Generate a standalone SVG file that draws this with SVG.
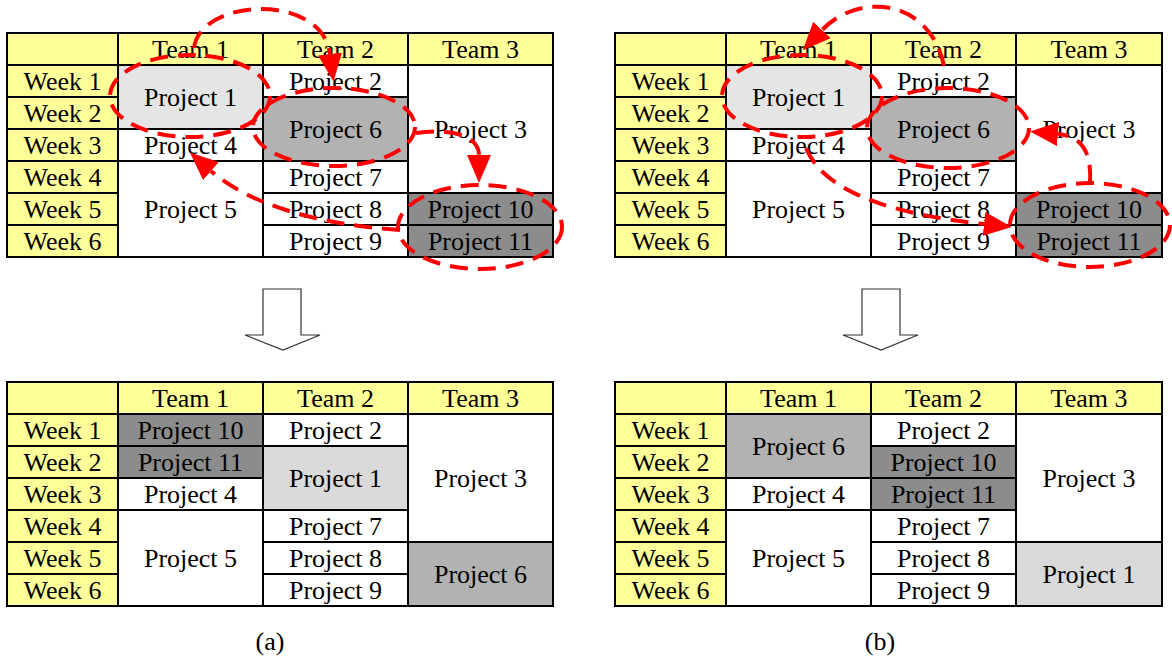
<svg xmlns="http://www.w3.org/2000/svg" width="1172" height="661" viewBox="0 0 1172 661">
  <style>
    rect { stroke: #000; stroke-width: 2; }
    .hd { fill: #ffff99; }
    .wh { fill: #ffffff; }
    .lt { fill: #e5e5e5; }
    .lt2 { fill: #d9d9d9; }
    .md { fill: #b2b2b2; }
    .dk { fill: #8c8c8c; }
    text { font-family: "Liberation Serif", "Times New Roman", "DejaVu Serif", serif; font-size: 26px; fill: #000; text-anchor: middle; }
    .ring { fill: none; stroke: #ff0000; stroke-width: 4; stroke-dasharray: 18 10; }
    .move { fill: none; stroke: #ff0000; stroke-width: 4; stroke-dasharray: 18 10; marker-end: url(#redHead); }
    .step { fill: #ffffff; stroke: #333; stroke-width: 1.2; }
  </style>
  <defs>
    <marker id="redHead" viewBox="0 0 28 24" refX="0" refY="12" markerWidth="28" markerHeight="24" markerUnits="userSpaceOnUse" orient="auto">
      <path d="M0,0 L28,12 L0,24 z" fill="#ff0000"/>
    </marker>
  </defs>

  <!-- Schedule (a), before -->
  <g id="tableA1">
    <g id="a1-corner"><rect class="hd" x="7" y="33" width="111" height="32"/></g>
    <g id="a1-team1"><rect class="hd" x="118" y="33" width="145" height="32"/><text x="190.5" y="58">Team 1</text></g>
    <g id="a1-team2"><rect class="hd" x="263" y="33" width="145" height="32"/><text x="335.5" y="58">Team 2</text></g>
    <g id="a1-team3"><rect class="hd" x="408" y="33" width="145" height="32"/><text x="480.5" y="58">Team 3</text></g>
    <g id="a1-week1"><rect class="hd" x="7" y="65" width="111" height="32"/><text x="62.5" y="90">Week 1</text></g>
    <g id="a1-week2"><rect class="hd" x="7" y="97" width="111" height="32"/><text x="62.5" y="122">Week 2</text></g>
    <g id="a1-week3"><rect class="hd" x="7" y="129" width="111" height="32"/><text x="62.5" y="154">Week 3</text></g>
    <g id="a1-week4"><rect class="hd" x="7" y="161" width="111" height="32"/><text x="62.5" y="186">Week 4</text></g>
    <g id="a1-week5"><rect class="hd" x="7" y="193" width="111" height="32"/><text x="62.5" y="218">Week 5</text></g>
    <g id="a1-week6"><rect class="hd" x="7" y="225" width="111" height="32"/><text x="62.5" y="250">Week 6</text></g>
    <g id="a1-p1"><rect class="lt" x="118" y="65" width="145" height="64"/><text x="190.5" y="106">Project 1</text></g>
    <g id="a1-p4"><rect class="wh" x="118" y="129" width="145" height="32"/><text x="190.5" y="154">Project 4</text></g>
    <g id="a1-p5"><rect class="wh" x="118" y="161" width="145" height="96"/><text x="190.5" y="218">Project 5</text></g>
    <g id="a1-p2"><rect class="wh" x="263" y="65" width="145" height="32"/><text x="335.5" y="90">Project 2</text></g>
    <g id="a1-p6"><rect class="md" x="263" y="97" width="145" height="64"/><text x="335.5" y="138">Project 6</text></g>
    <g id="a1-p7"><rect class="wh" x="263" y="161" width="145" height="32"/><text x="335.5" y="186">Project 7</text></g>
    <g id="a1-p8"><rect class="wh" x="263" y="193" width="145" height="32"/><text x="335.5" y="218">Project 8</text></g>
    <g id="a1-p9"><rect class="wh" x="263" y="225" width="145" height="32"/><text x="335.5" y="250">Project 9</text></g>
    <g id="a1-p3"><rect class="wh" x="408" y="65" width="145" height="128"/><text x="480.5" y="138">Project 3</text></g>
    <g id="a1-p10"><rect class="dk" x="408" y="193" width="145" height="32"/><text x="480.5" y="218">Project 10</text></g>
    <g id="a1-p11"><rect class="dk" x="408" y="225" width="145" height="32"/><text x="480.5" y="250">Project 11</text></g>
  </g>

  <!-- Schedule (b), before -->
  <g id="tableB1">
    <g id="b1-corner"><rect class="hd" x="615" y="33" width="111" height="32"/></g>
    <g id="b1-team1"><rect class="hd" x="726" y="33" width="145" height="32"/><text x="798.5" y="58">Team 1</text></g>
    <g id="b1-team2"><rect class="hd" x="871" y="33" width="145" height="32"/><text x="943.5" y="58">Team 2</text></g>
    <g id="b1-team3"><rect class="hd" x="1016" y="33" width="146" height="32"/><text x="1089" y="58">Team 3</text></g>
    <g id="b1-week1"><rect class="hd" x="615" y="65" width="111" height="32"/><text x="670.5" y="90">Week 1</text></g>
    <g id="b1-week2"><rect class="hd" x="615" y="97" width="111" height="32"/><text x="670.5" y="122">Week 2</text></g>
    <g id="b1-week3"><rect class="hd" x="615" y="129" width="111" height="32"/><text x="670.5" y="154">Week 3</text></g>
    <g id="b1-week4"><rect class="hd" x="615" y="161" width="111" height="32"/><text x="670.5" y="186">Week 4</text></g>
    <g id="b1-week5"><rect class="hd" x="615" y="193" width="111" height="32"/><text x="670.5" y="218">Week 5</text></g>
    <g id="b1-week6"><rect class="hd" x="615" y="225" width="111" height="32"/><text x="670.5" y="250">Week 6</text></g>
    <g id="b1-p1"><rect class="lt" x="726" y="65" width="145" height="64"/><text x="798.5" y="106">Project 1</text></g>
    <g id="b1-p4"><rect class="wh" x="726" y="129" width="145" height="32"/><text x="798.5" y="154">Project 4</text></g>
    <g id="b1-p5"><rect class="wh" x="726" y="161" width="145" height="96"/><text x="798.5" y="218">Project 5</text></g>
    <g id="b1-p2"><rect class="wh" x="871" y="65" width="145" height="32"/><text x="943.5" y="90">Project 2</text></g>
    <g id="b1-p6"><rect class="md" x="871" y="97" width="145" height="64"/><text x="943.5" y="138">Project 6</text></g>
    <g id="b1-p7"><rect class="wh" x="871" y="161" width="145" height="32"/><text x="943.5" y="186">Project 7</text></g>
    <g id="b1-p8"><rect class="wh" x="871" y="193" width="145" height="32"/><text x="943.5" y="218">Project 8</text></g>
    <g id="b1-p9"><rect class="wh" x="871" y="225" width="145" height="32"/><text x="943.5" y="250">Project 9</text></g>
    <g id="b1-p3"><rect class="wh" x="1016" y="65" width="146" height="128"/><text x="1089" y="138">Project 3</text></g>
    <g id="b1-p10"><rect class="dk" x="1016" y="193" width="146" height="32"/><text x="1089" y="218">Project 10</text></g>
    <g id="b1-p11"><rect class="dk" x="1016" y="225" width="146" height="32"/><text x="1089" y="250">Project 11</text></g>
  </g>

  <!-- Schedule (a), after -->
  <g id="tableA2">
    <g id="a2-corner"><rect class="hd" x="7" y="382" width="111" height="32"/></g>
    <g id="a2-team1"><rect class="hd" x="118" y="382" width="145" height="32"/><text x="190.5" y="407">Team 1</text></g>
    <g id="a2-team2"><rect class="hd" x="263" y="382" width="145" height="32"/><text x="335.5" y="407">Team 2</text></g>
    <g id="a2-team3"><rect class="hd" x="408" y="382" width="145" height="32"/><text x="480.5" y="407">Team 3</text></g>
    <g id="a2-week1"><rect class="hd" x="7" y="414" width="111" height="32"/><text x="62.5" y="439">Week 1</text></g>
    <g id="a2-week2"><rect class="hd" x="7" y="446" width="111" height="32"/><text x="62.5" y="471">Week 2</text></g>
    <g id="a2-week3"><rect class="hd" x="7" y="478" width="111" height="32"/><text x="62.5" y="503">Week 3</text></g>
    <g id="a2-week4"><rect class="hd" x="7" y="510" width="111" height="32"/><text x="62.5" y="535">Week 4</text></g>
    <g id="a2-week5"><rect class="hd" x="7" y="542" width="111" height="32"/><text x="62.5" y="567">Week 5</text></g>
    <g id="a2-week6"><rect class="hd" x="7" y="574" width="111" height="32"/><text x="62.5" y="599">Week 6</text></g>
    <g id="a2-p10"><rect class="dk" x="118" y="414" width="145" height="32"/><text x="190.5" y="439">Project 10</text></g>
    <g id="a2-p11"><rect class="dk" x="118" y="446" width="145" height="32"/><text x="190.5" y="471">Project 11</text></g>
    <g id="a2-p4"><rect class="wh" x="118" y="478" width="145" height="32"/><text x="190.5" y="503">Project 4</text></g>
    <g id="a2-p5"><rect class="wh" x="118" y="510" width="145" height="96"/><text x="190.5" y="567">Project 5</text></g>
    <g id="a2-p2"><rect class="wh" x="263" y="414" width="145" height="32"/><text x="335.5" y="439">Project 2</text></g>
    <g id="a2-p1"><rect class="lt2" x="263" y="446" width="145" height="64"/><text x="335.5" y="487">Project 1</text></g>
    <g id="a2-p7"><rect class="wh" x="263" y="510" width="145" height="32"/><text x="335.5" y="535">Project 7</text></g>
    <g id="a2-p8"><rect class="wh" x="263" y="542" width="145" height="32"/><text x="335.5" y="567">Project 8</text></g>
    <g id="a2-p9"><rect class="wh" x="263" y="574" width="145" height="32"/><text x="335.5" y="599">Project 9</text></g>
    <g id="a2-p3"><rect class="wh" x="408" y="414" width="145" height="128"/><text x="480.5" y="487">Project 3</text></g>
    <g id="a2-p6"><rect class="md" x="408" y="542" width="145" height="64"/><text x="480.5" y="583">Project 6</text></g>
  </g>

  <!-- Schedule (b), after -->
  <g id="tableB2">
    <g id="b2-corner"><rect class="hd" x="615" y="382" width="111" height="32"/></g>
    <g id="b2-team1"><rect class="hd" x="726" y="382" width="145" height="32"/><text x="798.5" y="407">Team 1</text></g>
    <g id="b2-team2"><rect class="hd" x="871" y="382" width="145" height="32"/><text x="943.5" y="407">Team 2</text></g>
    <g id="b2-team3"><rect class="hd" x="1016" y="382" width="146" height="32"/><text x="1089" y="407">Team 3</text></g>
    <g id="b2-week1"><rect class="hd" x="615" y="414" width="111" height="32"/><text x="670.5" y="439">Week 1</text></g>
    <g id="b2-week2"><rect class="hd" x="615" y="446" width="111" height="32"/><text x="670.5" y="471">Week 2</text></g>
    <g id="b2-week3"><rect class="hd" x="615" y="478" width="111" height="32"/><text x="670.5" y="503">Week 3</text></g>
    <g id="b2-week4"><rect class="hd" x="615" y="510" width="111" height="32"/><text x="670.5" y="535">Week 4</text></g>
    <g id="b2-week5"><rect class="hd" x="615" y="542" width="111" height="32"/><text x="670.5" y="567">Week 5</text></g>
    <g id="b2-week6"><rect class="hd" x="615" y="574" width="111" height="32"/><text x="670.5" y="599">Week 6</text></g>
    <g id="b2-p6"><rect class="md" x="726" y="414" width="145" height="64"/><text x="798.5" y="455">Project 6</text></g>
    <g id="b2-p4"><rect class="wh" x="726" y="478" width="145" height="32"/><text x="798.5" y="503">Project 4</text></g>
    <g id="b2-p5"><rect class="wh" x="726" y="510" width="145" height="96"/><text x="798.5" y="567">Project 5</text></g>
    <g id="b2-p2"><rect class="wh" x="871" y="414" width="145" height="32"/><text x="943.5" y="439">Project 2</text></g>
    <g id="b2-p10"><rect class="dk" x="871" y="446" width="145" height="32"/><text x="943.5" y="471">Project 10</text></g>
    <g id="b2-p11"><rect class="dk" x="871" y="478" width="145" height="32"/><text x="943.5" y="503">Project 11</text></g>
    <g id="b2-p7"><rect class="wh" x="871" y="510" width="145" height="32"/><text x="943.5" y="535">Project 7</text></g>
    <g id="b2-p8"><rect class="wh" x="871" y="542" width="145" height="32"/><text x="943.5" y="567">Project 8</text></g>
    <g id="b2-p9"><rect class="wh" x="871" y="574" width="145" height="32"/><text x="943.5" y="599">Project 9</text></g>
    <g id="b2-p3"><rect class="wh" x="1016" y="414" width="146" height="128"/><text x="1089" y="487">Project 3</text></g>
    <g id="b2-p1"><rect class="lt2" x="1016" y="542" width="146" height="64"/><text x="1089" y="583">Project 1</text></g>
  </g>

  <!-- Hollow block arrows between before and after -->
  <g id="stepA"><polygon class="step" points="263,289 301,289 301,335 320,335 283,350 245,335 263,335"/></g>
  <g id="stepB"><polygon class="step" points="862,289 900,289 900,335 918,335 881,350 843,335 862,335"/></g>

  <!-- Swap rings and moves -->
  <g id="connectors">
    <ellipse class="ring" cx="190" cy="96" rx="80" ry="41"/>
    <ellipse class="ring" cx="334" cy="127" rx="81" ry="39"/>
    <ellipse class="ring" cx="480" cy="227" rx="82" ry="42"/>
    <path class="move" d="M194,48 C200,-2 322,-8 330,54"/>
    <path class="move" d="M416,133 C450,128 479,135 479,155"/>
    <path class="move" d="M400,230 C320,225 250,205 211,171"/>

    <ellipse class="ring" cx="802" cy="96" rx="80" ry="41"/>
    <ellipse class="ring" cx="948" cy="128" rx="81" ry="40"/>
    <ellipse class="ring" cx="1090" cy="225" rx="80" ry="42"/>
    <path class="move" d="M944,66 C930,-2 858,-8 822,30"/>
    <path class="move" d="M1090,183 C1092,150 1080,136 1058,134"/>
    <path class="move" d="M806,148 C825,195 900,215 984,224"/>
  </g>

  <g id="captions">
    <text x="270" y="650">(a)</text>
    <text x="880" y="650">(b)</text>
  </g>
</svg>
